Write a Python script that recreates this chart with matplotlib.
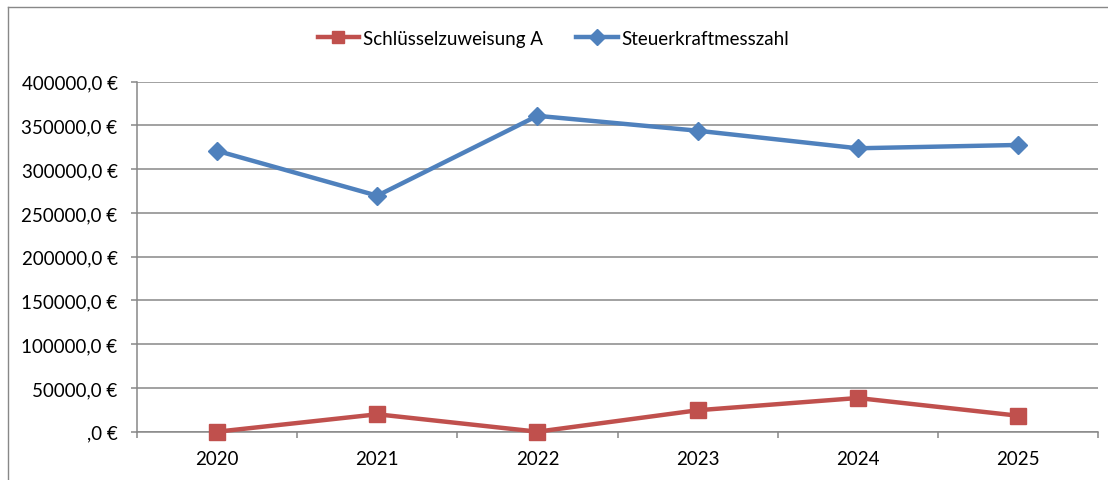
import matplotlib.pyplot as plt
from matplotlib.lines import Line2D
from matplotlib.ticker import FuncFormatter, MultipleLocator, FixedLocator

# Daten
jahre = ["2020", "2021", "2022", "2023", "2024", "2025"]
schluesselzuweisung_a = [0, 19900, 0, 24500, 38500, 18300]
steuerkraftmesszahl = [321000, 269700, 361000, 344000, 323900, 327700]

ROT = "#C0504D"
BLAU = "#4F81BD"
GRAU = "#888888"

plt.rcParams['font.family'] = ['Lato', 'DejaVu Sans']

W, H = 1108, 481
fig = plt.figure(figsize=(W / 100, H / 100), dpi=100)
ax = fig.add_axes([137 / W, 48.3 / H, (1098 - 137) / W, (432.7 - 82.7) / H])

x = list(range(len(jahre)))
ax.plot(x, schluesselzuweisung_a, color=ROT, linewidth=3.2, marker='s',
        markersize=11, label="Schlüsselzuweisung A", zorder=3, clip_on=False)
ax.plot(x, steuerkraftmesszahl, color=BLAU, linewidth=3.2, marker='D',
        markersize=9.5, label="Steuerkraftmesszahl", zorder=3, clip_on=False)

ax.set_xlim(-0.5, len(jahre) - 0.5)
ax.set_ylim(0, 400000)

def euro(v, pos):
    s = f"{v:.1f}".replace(".", ",")
    if s.startswith("0,"):
        s = s[1:]
    return s + " €"

ax.yaxis.set_major_locator(MultipleLocator(50000))
ax.yaxis.set_major_formatter(FuncFormatter(euro))
ax.set_xticks(x)
ax.set_xticklabels(jahre)
ax.xaxis.set_minor_locator(FixedLocator([i - 0.5 for i in range(len(jahre) + 1)]))

ax.grid(axis='y', color=GRAU, linewidth=1.1)
ax.set_axisbelow(True)
for side in ('top', 'right'):
    ax.spines[side].set_visible(False)
for side in ('left', 'bottom'):
    ax.spines[side].set_color(GRAU)
    ax.spines[side].set_linewidth(1.1)

ax.tick_params(axis='y', length=4, color=GRAU, width=1.1, pad=10, labelsize=13.5)
ax.tick_params(axis='x', which='major', length=0, pad=13, labelsize=13.5)
ax.tick_params(axis='x', which='minor', length=4, color=GRAU, width=1.1)

fig.legend(loc='center', bbox_to_anchor=(0.4995, 1 - 39.3 / H), ncol=2,
           frameon=False, fontsize=13.5, handlelength=2.2, handletextpad=0.2,
           columnspacing=1.8, borderpad=0, markerscale=0.85)

# Rahmen des Diagramms
fig.add_artist(Line2D([7.5 / W, 1], [1 - 7.5 / H, 1 - 7.5 / H], color=GRAU, linewidth=1))
fig.add_artist(Line2D([7.5 / W, 7.5 / W], [0, 1 - 7.5 / H], color=GRAU, linewidth=1))

fig.savefig("out.png", dpi=100)
